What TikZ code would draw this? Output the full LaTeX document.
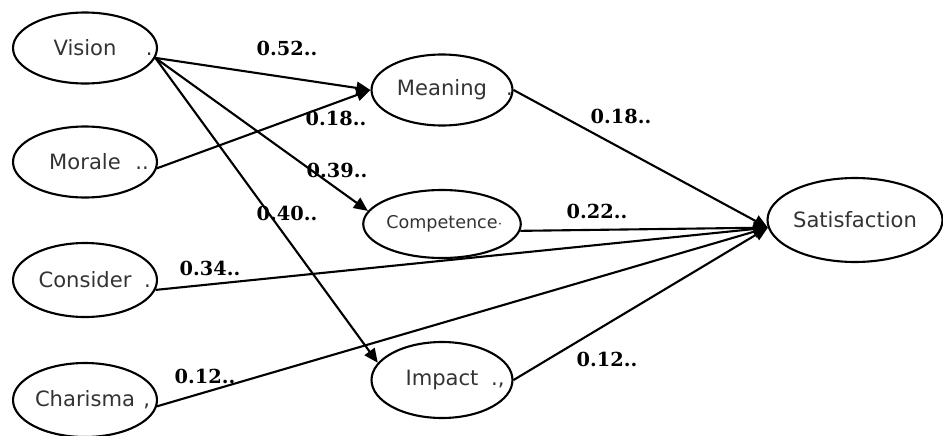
\documentclass[tikz,border=0pt]{standalone}
\usepackage{fontspec}
\setmainfont{DejaVu Serif}
\setsansfont{DejaVu Sans}
\usetikzlibrary{shapes.geometric,arrows.meta}

\begin{document}
\begin{tikzpicture}[x=0.02cm,y=-0.02cm,
    var/.style={ellipse, draw, line width=1.2pt, inner sep=0pt,
      minimum width=2.88cm, minimum height=1.42cm,
      font=\sffamily\fontsize{12}{14}\selectfont, text=black!80},
    coef/.style={inner sep=0pt, font=\bfseries\fontsize{11}{13}\selectfont},
    effect/.style={line width=1.2pt, -{Triangle[length=8pt,width=7pt]}}]
  \useasboundingbox (0,0) rectangle (943,436);
  % exogenous variables, left column
  \node[var] (vision) at (85,48) {Vision\rlap{\hspace{1.4em}.}};
  \node[var] (morale) at (85,162) {Morale\rlap{\hspace{0.7em}..}};
  \node[var, minimum height=1.48cm] (consider) at (85,280) {Consider\rlap{\hspace{0.6em}.}};
  \node[var, minimum height=1.48cm] (charisma) at (85,400) {Charisma\rlap{\hspace{0.4em},}};
  % mediators, middle column
  \node[var, minimum width=2.82cm] (meaning) at (442,90) {Meaning\rlap{\hspace{0.9em}.}};
  \node[var, minimum width=2.82cm, minimum height=1.36cm,
    font=\sffamily\fontsize{10}{12}\selectfont] (competence) at (442,224) {Competence\rlap{$\cdot$}};
  \node[var, minimum width=2.82cm, minimum height=1.52cm] (impact) at (442,380) {Impact\rlap{\hspace{0.6em}.,}};
  % outcome
  \node[var, minimum width=3.5cm, minimum height=1.68cm] (sat) at (855,220) {Satisfaction};

  % paths out of Vision
  \draw[effect] (vision.-8) -- (meaning.west);
  \draw[effect] (vision.-8) -- (competence.170);
  \draw[effect] (vision.-8) -- (impact.165);
  \draw[effect] (morale.-5) -- (meaning.west);
  % paths into Satisfaction
  \draw[effect] (meaning.east) -- (sat.185);
  \draw[effect] (competence.-5) -- (sat.185);
  \draw[effect] (consider.-8) -- (sat.185);
  \draw[effect] (charisma.-5) -- (sat.185);
  \draw[effect] (impact.east) -- (sat.185);

  % coefficients
  \node[coef] (c52) at (287,48) {0.52..};
  \node[coef] (c18a) at (336,118) {0.18..};
  \node[coef] (c39) at (337,170) {0.39..};
  \node[coef] (c40) at (287,213) {0.40..};
  \node[coef] (c34) at (210,268) {0.34..};
  \node[coef] (c12a) at (205,376) {0.12..};
  \node[coef] (c18b) at (621,116) {0.18..};
  \node[coef] (c22) at (597,211) {0.22..};
  \node[coef] (c12b) at (607,359) {0.12..};
\end{tikzpicture}
\end{document}
